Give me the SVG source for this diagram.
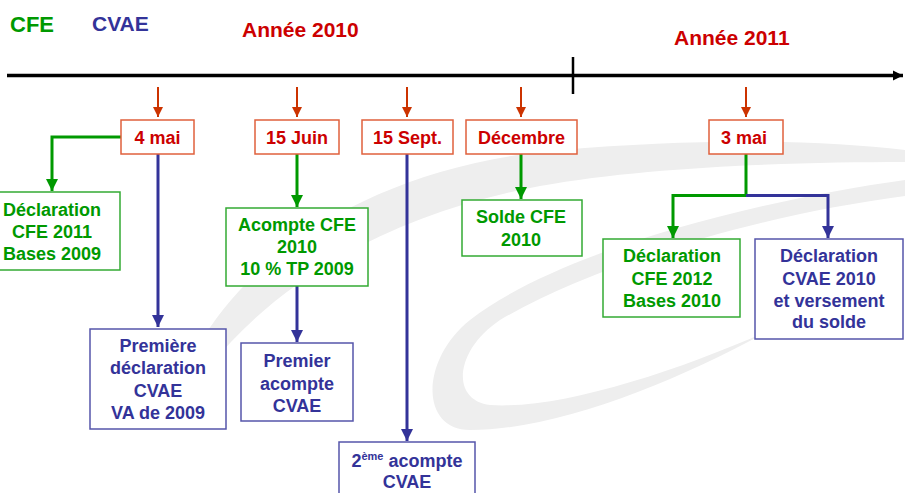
<svg xmlns="http://www.w3.org/2000/svg" width="905" height="493" viewBox="0 0 905 493">
<style>
text{font-family:"Liberation Sans",Arial,sans-serif;font-weight:bold;text-anchor:middle}
.g{fill:#009900;font-size:18px}
.b{fill:#333399;font-size:18px}
.r{fill:#cc0000;font-size:18px}
.dbox{fill:#fff;stroke:#e0603c;stroke-width:1.5}
.gbox{fill:#fff;stroke:#33aa33;stroke-width:1.5}
.bbox{fill:#fff;stroke:#5555aa;stroke-width:1.5}
.gl{fill:none;stroke:#009900;stroke-width:3}
.bl{fill:none;stroke:#333399;stroke-width:3}
.rl{fill:none;stroke:#cc3300;stroke-width:2}
</style>
<defs>
<marker id="ag" viewBox="0 0 10 10" refX="10" refY="5" markerWidth="4" markerHeight="4" orient="auto" markerUnits="strokeWidth"><path d="M0,0 L10,5 L0,10 Z" fill="#009900"/></marker>
<marker id="ab" viewBox="0 0 10 10" refX="10" refY="5" markerWidth="4" markerHeight="4" orient="auto" markerUnits="strokeWidth"><path d="M0,0 L10,5 L0,10 Z" fill="#333399"/></marker>
<marker id="ar" viewBox="0 0 10 10" refX="10" refY="5" markerWidth="5" markerHeight="5" orient="auto" markerUnits="strokeWidth"><path d="M0,0 L10,5 L0,10 Z" fill="#cc3300"/></marker>
<marker id="ak" viewBox="0 0 10 10" refX="10" refY="5" markerWidth="3" markerHeight="3" orient="auto" markerUnits="strokeWidth"><path d="M0,0 L10,5 L0,10 Z" fill="#000"/></marker>
</defs>
<rect width="905" height="493" fill="#fff"/>
<g id="watermark" fill="#eeeeee">
<path d="M170,425 C190,300 330,170 560,150 C700,138 820,140 905,150 L905,162 C800,162 650,166 540,186 C370,218 240,300 170,425 Z"/>
<path d="M905,180 C760,200 560,250 470,320 C420,360 420,430 470,430 C560,430 680,380 770,330 C680,370 560,410 490,405 C450,400 455,350 500,320 C600,262 760,215 905,196 Z"/>
</g>
<g id="titles">
<text x="10" y="32" style="font-size:22px;fill:#009900;text-anchor:start">CFE</text>
<text x="92" y="31" style="font-size:21px;fill:#333399;text-anchor:start">CVAE</text>
<text x="242" y="37" style="font-size:21px;fill:#cc0000;text-anchor:start">Année 2010</text>
<text x="674" y="45" style="font-size:21px;fill:#cc0000;text-anchor:start">Année 2011</text>
</g>
<g id="timeline">
<line x1="7" y1="75.5" x2="903" y2="75.5" stroke="#000" stroke-width="3.5" marker-end="url(#ak)"/>
<line x1="573" y1="57" x2="573" y2="94" stroke="#000" stroke-width="2.5"/>
</g>
<g id="connectors">
<line class="rl" x1="158" y1="87" x2="158" y2="117" marker-end="url(#ar)"/>
<line class="rl" x1="297" y1="87" x2="297" y2="117" marker-end="url(#ar)"/>
<line class="rl" x1="407" y1="87" x2="407" y2="117" marker-end="url(#ar)"/>
<line class="rl" x1="521" y1="87" x2="521" y2="117" marker-end="url(#ar)"/>
<line class="rl" x1="746" y1="87" x2="746" y2="117" marker-end="url(#ar)"/>
<path class="gl" d="M121,137 H52 V191" marker-end="url(#ag)"/>
<path class="bl" d="M158,154 V327" marker-end="url(#ab)"/>
<path class="gl" d="M297,154 V207" marker-end="url(#ag)"/>
<path class="bl" d="M297,286 V342" marker-end="url(#ab)"/>
<path class="bl" d="M407,154 V441" marker-end="url(#ab)"/>
<path class="gl" d="M521,154 V199" marker-end="url(#ag)"/>
<path class="gl" d="M746,154 V195.5 H673 V238" marker-end="url(#ag)"/>
<path class="bl" d="M746,195.5 H828 V238" marker-end="url(#ab)"/>
</g>
<g id="d-4mai"><rect class="dbox" x="121" y="120" width="73" height="34"/><text class="r" x="157.5" y="144">4 mai</text></g>
<g id="d-15juin"><rect class="dbox" x="255" y="120" width="84" height="34"/><text class="r" x="297" y="144">15 Juin</text></g>
<g id="d-15sept"><rect class="dbox" x="362" y="120" width="91" height="34"/><text class="r" x="407.5" y="144">15 Sept.</text></g>
<g id="d-dec"><rect class="dbox" x="466" y="120" width="111" height="34"/><text class="r" x="521.5" y="144">Décembre</text></g>
<g id="d-3mai"><rect class="dbox" x="709" y="120" width="74" height="34"/><text class="r" x="744" y="144">3 mai</text></g>
<g id="n-decl-cfe2011"><rect class="gbox" x="-1" y="192" width="121" height="78"/>
<text class="g" x="52" y="216">Déclaration</text><text class="g" x="52" y="238">CFE 2011</text><text class="g" x="52" y="260">Bases 2009</text></g>
<g id="n-premiere-decl"><rect class="bbox" x="90" y="329" width="136" height="100"/>
<text class="b" x="158" y="352">Première</text><text class="b" x="158" y="374">déclaration</text><text class="b" x="158" y="397">CVAE</text><text class="b" x="158" y="419">VA de 2009</text></g>
<g id="n-acompte-cfe"><rect class="gbox" x="226" y="208" width="142" height="78"/>
<text class="g" x="297" y="231">Acompte CFE</text><text class="g" x="297" y="253">2010</text><text class="g" x="297" y="275">10 % TP 2009</text></g>
<g id="n-premier-acompte"><rect class="bbox" x="241" y="343" width="112" height="78"/>
<text class="b" x="297" y="367">Premier</text><text class="b" x="297" y="390">acompte</text><text class="b" x="297" y="412">CVAE</text></g>
<g id="n-2eme-acompte"><rect class="bbox" x="339" y="442" width="136" height="60"/>
<text class="b" x="407" y="467">2<tspan style="font-size:11px" dy="-7">ème</tspan><tspan dy="7"> acompte</tspan></text><text class="b" x="407" y="488">CVAE</text></g>
<g id="n-solde-cfe"><rect class="gbox" x="462" y="200" width="120" height="56"/>
<text class="g" x="521" y="223">Solde CFE</text><text class="g" x="521" y="246">2010</text></g>
<g id="n-decl-cfe2012"><rect class="gbox" x="603" y="239" width="137" height="78"/>
<text class="g" x="672" y="262">Déclaration</text><text class="g" x="672" y="285">CFE 2012</text><text class="g" x="672" y="307">Bases 2010</text></g>
<g id="n-decl-cvae2010"><rect class="bbox" x="755" y="239" width="148" height="100"/>
<text class="b" x="829" y="262">Déclaration</text><text class="b" x="829" y="285">CVAE 2010</text><text class="b" x="829" y="307">et versement</text><text class="b" x="829" y="328">du solde</text></g>
</svg>
